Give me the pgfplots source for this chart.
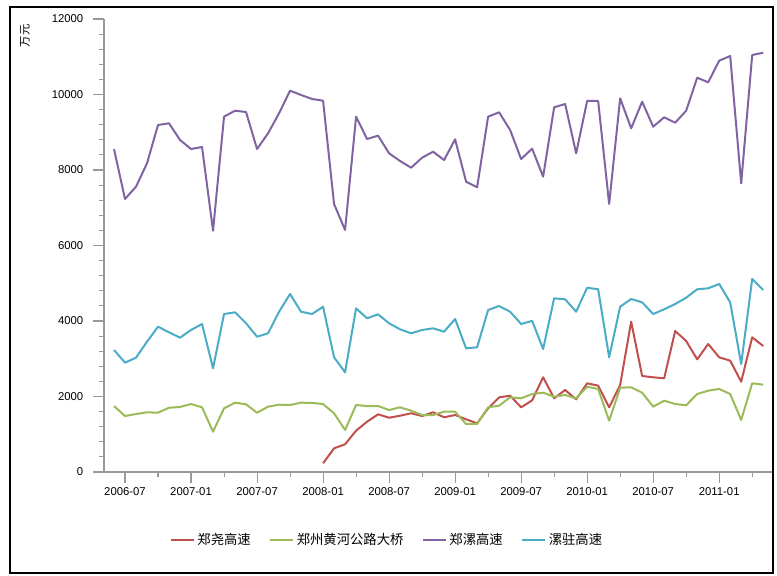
\documentclass[border=0pt]{standalone}
\usepackage{fontspec}
\setmainfont{Liberation Sans}
\newfontfamily\cjk{Noto Sans CJK SC}
\usepackage{pgfplots}
\usepackage{pgfplotstable}
\pgfplotsset{compat=1.18}
\definecolor{cred}{HTML}{C0504D}
\definecolor{cgreen}{HTML}{9BBB59}
\definecolor{cpurple}{HTML}{8064A2}
\definecolor{cblue}{HTML}{4BACC6}
\definecolor{axgray}{HTML}{999999}
\pgfplotstableread{
idx purple blue green
0 8556 3232 1748
1 7232 2896 1483
2 7558 3028 1536
3 8177 3452 1581
4 9192 3849 1571
5 9237 3700 1703
6 8795 3558 1722
7 8556 3762 1801
8 8609 3921 1714
9 6392 2747 1068
10 9412 4185 1687
11 9571 4230 1836
12 9536 3939 1793
13 8556 3584 1571
14 8972 3674 1730
15 9502 4246 1783
16 10101 4715 1775
17 9987 4246 1836
18 9881 4185 1830
19 9836 4379 1801
20 7099 3038 1555
21 6411 2641 1113
22 9412 4336 1775
23 8821 4072 1748
24 8909 4177 1748
25 8442 3939 1642
26 8238 3780 1714
27 8061 3674 1624
28 8326 3762 1510
29 8485 3806 1510
30 8265 3717 1597
31 8813 4053 1597
32 7690 3276 1272
33 7542 3303 1272
34 9412 4291 1714
35 9528 4397 1756
36 9060 4246 1979
37 8291 3921 1952
38 8565 4004 2066
39 7823 3258 2101
40 9661 4601 1995
41 9748 4575 2040
42 8442 4246 1952
43 9828 4882 2260
44 9828 4840 2199
45 7099 3038 1359
46 9899 4379 2233
47 9105 4583 2244
48 9809 4495 2101
49 9147 4185 1730
50 9396 4310 1889
51 9253 4450 1801
52 9571 4617 1767
53 10445 4840 2066
54 10323 4866 2154
55 10895 4980 2199
56 11020 4495 2066
57 7648 2861 1377
58 11046 5113 2350
59 11107 4821 2313
}\maindata
\pgfplotstableread{
idx red
19 230
20 628
21 734
22 1094
23 1332
24 1528
25 1438
26 1491
27 1555
28 1483
29 1581
30 1449
31 1510
32 1396
33 1290
34 1687
35 1979
36 2021
37 1714
38 1898
39 2509
40 1952
41 2172
42 1925
43 2350
44 2287
45 1714
46 2305
47 3982
48 2543
49 2509
50 2482
51 3735
52 3470
53 2985
54 3391
55 3038
56 2949
57 2392
58 3568
59 3338
}\reddata
\begin{document}
\begin{tikzpicture}
\useasboundingbox (0,0) rectangle (582.75pt,431.25pt);
\draw[black, line width=1.5pt] (7.5pt,1.5pt) rectangle (579.75pt,426pt);
\node[rotate=90, font=\cjk\fontsize{8.5}{10}\selectfont, inner sep=0pt] at (18.75pt,404.25pt) {万元};
\begin{axis}[
  at={(78pt,77.25pt)}, anchor=south west,
  scale only axis, width=501pt, height=339.75pt,
  xmin=-0.909, xmax=59.8, ymin=0, ymax=12000,
  axis x line*=bottom, axis y line*=left,
  axis line style={axgray, line width=0.8pt},
  tick style={axgray, line width=0.8pt},
  tick align=outside,
  major tick length=8pt, minor tick length=4pt,
  scaled y ticks=false,
  xtick={1,7,13,19,25,31,37,43,49,55},
  xticklabels={2006-07,2007-01,2007-07,2008-01,2008-07,2009-01,2009-07,2010-01,2010-07,2011-01},
  minor xtick={4,10,16,22,28,34,40,46,52,58},
  ytick={0,2000,4000,6000,8000,10000,12000},
  minor y tick num=4,
  /pgf/number format/.cd, 1000 sep={}, assume math mode=true,
  /pgfplots/.cd,
  tick label style={font=\fontsize{8.5}{10}\selectfont, text=black},
  yticklabel style={xshift=-4pt},
  legend columns=4,
  legend style={at={(0.4244,-0.150)}, anchor=center, draw=none, fill=none,
    font=\cjk\fontsize{10}{12}\selectfont,
    /tikz/every even column/.append style={column sep=12pt}},
  legend image code/.code={\draw[#1] (0pt,0pt) -- (17pt,0pt);},
  every axis plot/.append style={line width=1.5pt, line join=round},
]
\addplot[cred, no marks] table[x=idx, y=red] {\reddata};
\addlegendentry{郑尧高速}
\addplot[cgreen, no marks] table[x=idx, y=green] {\maindata};
\addlegendentry{郑州黄河公路大桥}
\addplot[cpurple, no marks] table[x=idx, y=purple] {\maindata};
\addlegendentry{郑漯高速}
\addplot[cblue, no marks] table[x=idx, y=blue] {\maindata};
\addlegendentry{漯驻高速}
\end{axis}
\end{tikzpicture}
\end{document}
